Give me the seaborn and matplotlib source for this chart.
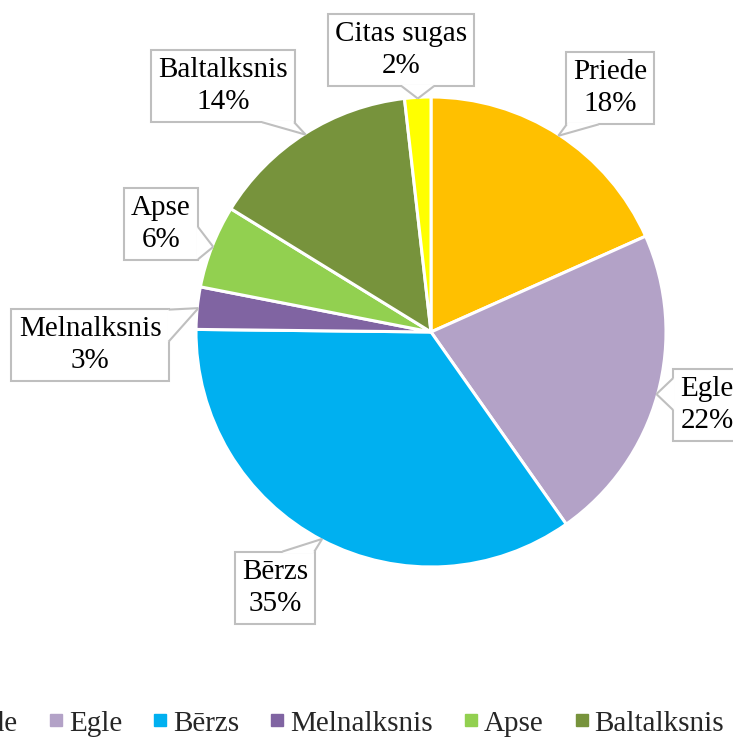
import numpy as np
import matplotlib
matplotlib.use("Agg")
import matplotlib.pyplot as plt
import seaborn as sns
from matplotlib.lines import Line2D
from matplotlib.patches import Polygon

species = ["Priede", "Egle", "Bērzs", "Melnalksnis", "Apse", "Baltalksnis", "Citas sugas"]
shares = [18.3, 21.9, 34.9, 2.9, 5.7, 14.4, 1.8]
colors = ["#FFC000", "#B3A2C7", "#00B0F0", "#8064A2", "#92D050", "#77933C", "#FFFF00"]

# label box centres (data coords, pie radius = 1)
label_pos = {
    "Priede": (0.762, 1.038),
    "Egle": (1.175, -0.311),
    "Bērzs": (-0.664, -1.089),
    "Melnalksnis": (-1.451, -0.055),
    "Apse": (-1.149, 0.460),
    "Baltalksnis": (-0.885, 1.047),
    "Citas sugas": (-0.128, 1.200),
}

sns.set_theme(style="white")
plt.rcParams["font.family"] = ["Liberation Serif", "DejaVu Serif"]

fig = plt.figure(figsize=(7.33, 7.38), dpi=100)
ax = fig.add_axes([0.2674, 0.2317, 0.6412, 0.6369])

wedges, _ = ax.pie(shares, colors=colors, startangle=90, counterclock=False,
                   radius=1.0, wedgeprops=dict(edgecolor="white", linewidth=2.2))
ax.set_xlim(-1, 1)
ax.set_ylim(-1, 1)
ax.set_aspect("equal")
ax.axis("off")

BORDER = "#BFBFBF"
total = sum(shares)
cum = 0.0
labels = []
for name, v in zip(species, shares):
    mid = (cum + v / 2) / total * 2 * np.pi
    cum += v
    tip = (np.sin(mid) * 0.995, np.cos(mid) * 0.995)
    txt = f"{name}\n{v / total * 100:.0f}%"
    t = ax.text(*label_pos[name], txt, ha="center", va="center", fontsize=21,
                color="black", linespacing=1.3, clip_on=False, zorder=3,
                bbox=dict(boxstyle="square,pad=0.25", fc="white", ec=BORDER, lw=1.5))
    labels.append((t, tip))

handles = [Line2D([0], [0], marker="s", color="none", markerfacecolor=c,
                  markeredgecolor=c, markersize=8) for c in colors]
fig.legend(handles, species, loc="lower center", bbox_to_anchor=(416 / 733, -0.018),
           ncol=7, frameon=False, fontsize=21, handlelength=0.4,
           handletextpad=0.25, columnspacing=1.1, borderaxespad=0.1)

# callout pointers: triangle from box edge to the wedge
fig.canvas.draw()
renderer = fig.canvas.get_renderer()
inv = ax.transData.inverted()
half = 16.0
for t, tip in labels:
    bb = t.get_bbox_patch().get_window_extent(renderer)
    x0, y0, x1, y1 = bb.x0, bb.y0, bb.x1, bb.y1
    cx, cy = (x0 + x1) / 2, (y0 + y1) / 2
    tx, ty = ax.transData.transform(tip)
    dx = (tx - cx) / ((x1 - x0) / 2)
    dy = (ty - cy) / ((y1 - y0) / 2)
    if abs(dy) >= abs(dx):
        ey = y0 if dy < 0 else y1
        inward = 1.5 if dy < 0 else -1.5
        bc = min(max(tx, x0 + half + 1), x1 - half - 1)
        b1, b2 = (bc - half, ey), (bc + half, ey)
        b1i, b2i = (bc - half + 0.8, ey + inward), (bc + half - 0.8, ey + inward)
    else:
        ex = x0 if dx < 0 else x1
        inward = 1.5 if dx < 0 else -1.5
        bc = min(max(ty, y0 + half + 1), y1 - half - 1)
        b1, b2 = (ex, bc - half), (ex, bc + half)
        b1i, b2i = (ex + inward, bc - half + 0.8), (ex + inward, bc + half - 0.8)
    pts = np.array([b1i, b1, (tx, ty), b2, b2i])
    ax.add_patch(Polygon(inv.transform(pts), closed=True, fc="white", ec="none",
                         zorder=4, clip_on=False))
    for b in (b1, b2):
        seg = inv.transform(np.array([b, (tx, ty)]))
        ax.plot(seg[:, 0], seg[:, 1], color=BORDER, lw=1.5, zorder=5,
                clip_on=False, solid_capstyle="butt")

fig.savefig("out.png", dpi=100)
